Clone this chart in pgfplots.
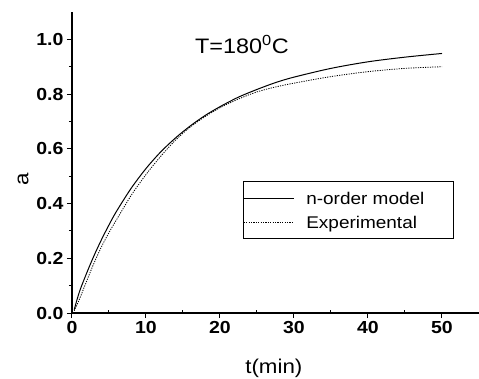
\documentclass[border=0pt]{standalone}
\usepackage{fontspec}
\setmainfont{Liberation Sans}[FakeStretch=1.12]
\usepackage{pgfplots}
\pgfplotsset{compat=1.18}

\pgfplotstableread{
t a
0.3 0.012
1 0.0772
2 0.147
3 0.211
4 0.269
5 0.322
6 0.371
8 0.456
10 0.528
12 0.589
14 0.640
16 0.684
18 0.722
20 0.754
22.5 0.789
25 0.817
27.5 0.842
30 0.862
35 0.894
40 0.918
45 0.935
50 0.9485
}\model

\pgfplotstableread{
t a
0.3 0.008
1 0.050
2 0.118
3 0.184
4 0.243
5 0.294
6 0.340
8 0.430
10 0.506
12 0.573
14 0.632
16 0.680
18 0.718
20 0.750
22.5 0.782
25 0.808
27.5 0.826
30 0.840
35 0.864
40 0.882
45 0.894
50 0.900
}\expdata

\begin{document}
\begin{tikzpicture}
\begin{axis}[
  scale only axis, width=407bp, height=301bp,
  xmin=0, xmax=55, ymin=0, ymax=1.1,
  axis lines=left,
  axis line style={-, line width=1.1bp, black},
  xtick={0,10,20,30,40,50},
  ytick={0,0.2,0.4,0.6,0.8,1.0},
  minor x tick num=1, minor y tick num=1,
  tick align=outside,
  major tick length=5bp, minor tick length=3bp,
  tick style={line width=1bp, black},
  minor x tick style={yshift=3bp},
  /pgf/number format/assume math mode=true,
  ticklabel style={font=\fontsize{17.5}{17.5}\selectfont\bfseries},
  yticklabel style={/pgf/number format/.cd, fixed, fixed zerofill, precision=1},
  xticklabel style={/pgf/number format/.cd, fixed, precision=0},
  xlabel={t(min)},
  ylabel={a},
  label style={font=\fontsize{20}{20}\selectfont},
  xlabel style={at={(axis description cs:0.496,0)}, anchor=base, yshift=-60bp},
  ylabel style={at={(axis description cs:-0.12,0.445)}, anchor=center},
  legend style={at={(axis description cs:0.4201,0.4385)}, anchor=north west,
    draw=black, line width=0.7bp, inner xsep=0pt, inner ysep=4.6bp,
    font=\fontsize{17}{17}\selectfont, row sep=0pt, column sep=12bp,
    nodes={inner xsep=0pt, inner ysep=1.5bp, text height=17bp, text depth=4bp}},
  legend cell align=left,
  legend image code/.code={\draw[#1] (0bp,-0.5bp) -- (50bp,-0.5bp);},
]
\addplot[black, line width=1bp, smooth] table {\model};
\addlegendentry{\makebox[147bp][l]{n-order model}}
\addplot[black, line width=0.8bp, dash pattern=on 1.2bp off 1.2bp, smooth] table {\expdata};
\addlegendentry{\makebox[147bp][l]{Experimental}}
\node[anchor=base west, inner sep=0pt, font=\fontsize{21}{21}\selectfont] at (axis cs:16.6,0.949) {T=180\textsuperscript{0}C};
\end{axis}
\pgfresetboundingbox
\useasboundingbox (-72bp,-66bp) rectangle (407bp,313bp);
\end{tikzpicture}
\end{document}
